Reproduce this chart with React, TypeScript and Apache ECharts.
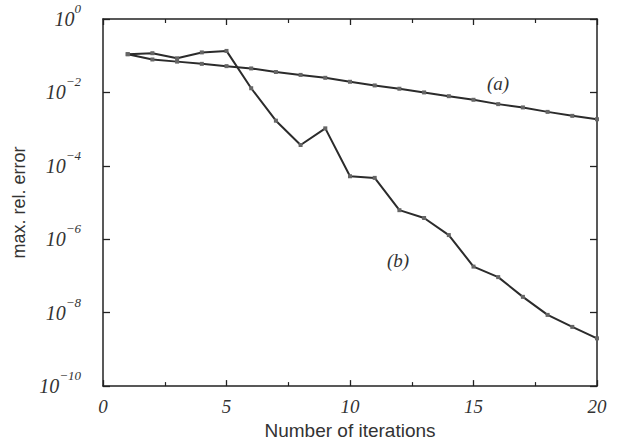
import React, { useEffect, useRef } from "react";
import * as echarts from "echarts";

const iterations = [1, 2, 3, 4, 5, 6, 7, 8, 9, 10, 11, 12, 13, 14, 15, 16, 17, 18, 19, 20];
const seriesA = [
  1.1e-1, 7.9e-2, 6.9e-2, 6.0e-2, 5.2e-2, 4.5e-2, 3.6e-2, 3.0e-2, 2.5e-2, 1.95e-2,
  1.55e-2, 1.26e-2, 1.0e-2, 7.9e-3, 6.3e-3, 4.8e-3, 3.9e-3, 2.95e-3, 2.3e-3, 1.86e-3,
];
const seriesB = [
  1.1e-1, 1.17e-1, 8.5e-2, 1.23e-1, 1.35e-1, 1.3e-2, 1.7e-3, 3.7e-4, 1.05e-3, 5.2e-5,
  4.7e-5, 6.2e-6, 3.8e-6, 1.3e-6, 1.8e-7, 9.3e-8, 2.7e-8, 8.7e-9, 4.1e-9, 2.0e-9,
];
const xTicks = [0, 5, 10, 15, 20];
const yExponents = [0, -2, -4, -6, -8, -10];
const seriesLabels = ["(a)", "(b)"];
const xTitle = "Number of iterations";
const yTitle = "max. rel. error";

const SERIF = "'Liberation Serif', 'Times New Roman', serif";
const SANS = "'Liberation Sans', Arial, sans-serif";
const AXIS_COLOR = "#222";

export default function App() {
  const ref = useRef<HTMLDivElement>(null);

  useEffect(() => {
    if (!ref.current) return;
    const chart = echarts.init(ref.current, undefined, { renderer: "svg" });

    const yFormatter = (v: number) => {
      const e = Math.round(Math.log10(v));
      const sup = e === 0 ? "0" : (e < 0 ? "\u2212" : "") + Math.abs(e);
      return "{b|10}{s|" + sup + "}";
    };
    const rich = {
      b: { fontSize: 20, fontStyle: "italic", fontFamily: SERIF, color: "#333", lineHeight: 34 },
      s: { fontSize: 13, fontStyle: "italic", fontFamily: SERIF, color: "#333", lineHeight: 14, verticalAlign: "top" },
    };

    const axisLine = { show: true, onZero: false, lineStyle: { color: AXIS_COLOR, width: 1.5 } };
    const xMin = xTicks[0];
    const xMax = xTicks[xTicks.length - 1];
    const xInterval = xTicks[1] - xTicks[0];
    const yMin = Math.pow(10, yExponents[yExponents.length - 1]);
    const yMax = Math.pow(10, yExponents[0]);

    const baseX = {
      type: "value",
      min: xMin,
      max: xMax,
      interval: xInterval,
      axisLine,
      axisTick: { show: true, inside: true, length: 6, lineStyle: { color: AXIS_COLOR, width: 1.3 } },
      minorTick: { show: true, splitNumber: 2, length: 4, lineStyle: { color: AXIS_COLOR, width: 1.2 } },
      splitLine: { show: false },
      minorSplitLine: { show: false },
    };
    const baseY = {
      type: "log",
      logBase: 10,
      min: yMin,
      max: yMax,
      interval: 2,
      axisLine,
      axisTick: { show: true, inside: true, length: 7, lineStyle: { color: AXIS_COLOR, width: 1.3 } },
      splitLine: { show: false },
    };

    chart.setOption({
      animation: false,
      backgroundColor: "#ffffff",
      grid: { left: 103, right: 24, top: 19, bottom: 54, containLabel: false },
      xAxis: [
        {
          ...baseX,
          position: "bottom",
          name: xTitle,
          nameLocation: "middle",
          nameGap: 33,
          nameTextStyle: { fontFamily: SANS, fontSize: 19, color: "#333" },
          axisLabel: {
            show: true,
            margin: 11,
            fontFamily: SERIF,
            fontStyle: "italic",
            fontSize: 19,
            color: "#333",
          },
        },
        {
          ...baseX,
          position: "top",
          axisLabel: { show: false },
        },
      ],
      yAxis: [
        {
          ...baseY,
          position: "left",
          name: yTitle,
          nameLocation: "middle",
          nameGap: 67,
          nameRotate: 90,
          nameTextStyle: { fontFamily: SANS, fontSize: 18, color: "#333" },
          axisLabel: {
            show: true,
            margin: 22,
            formatter: yFormatter,
            rich,
          },
        },
        {
          ...baseY,
          position: "right",
          axisLabel: { show: false },
        },
      ],
      series: [
        {
          name: seriesLabels[0],
          type: "line",
          data: iterations.map((x, i) => [x, seriesA[i]]),
          symbol: "rect",
          symbolSize: 4,
          lineStyle: { color: "#2b2b2b", width: 2 },
          itemStyle: { color: "#666" },
          xAxisIndex: 0,
          yAxisIndex: 0,
        },
        {
          name: seriesLabels[1],
          type: "line",
          data: iterations.map((x, i) => [x, seriesB[i]]),
          symbol: "rect",
          symbolSize: 4,
          lineStyle: { color: "#2b2b2b", width: 2 },
          itemStyle: { color: "#666" },
          xAxisIndex: 0,
          yAxisIndex: 0,
        },
      ],
      graphic: [
        {
          type: "text",
          x: 498,
          y: 83,
          style: {
            text: seriesLabels[0],
            font: "italic 19px " + SERIF,
            fill: "#333",
            textAlign: "center",
            textVerticalAlign: "middle",
          },
        },
        {
          type: "text",
          x: 398,
          y: 260,
          style: {
            text: seriesLabels[1],
            font: "italic 19px " + SERIF,
            fill: "#333",
            textAlign: "center",
            textVerticalAlign: "middle",
          },
        },
      ],
    });

    return () => chart.dispose();
  }, []);

  return (
    <div
      ref={ref}
      style={{ position: "fixed", left: 0, top: 0, width: 621, height: 445, background: "#fff" }}
    />
  );
}
